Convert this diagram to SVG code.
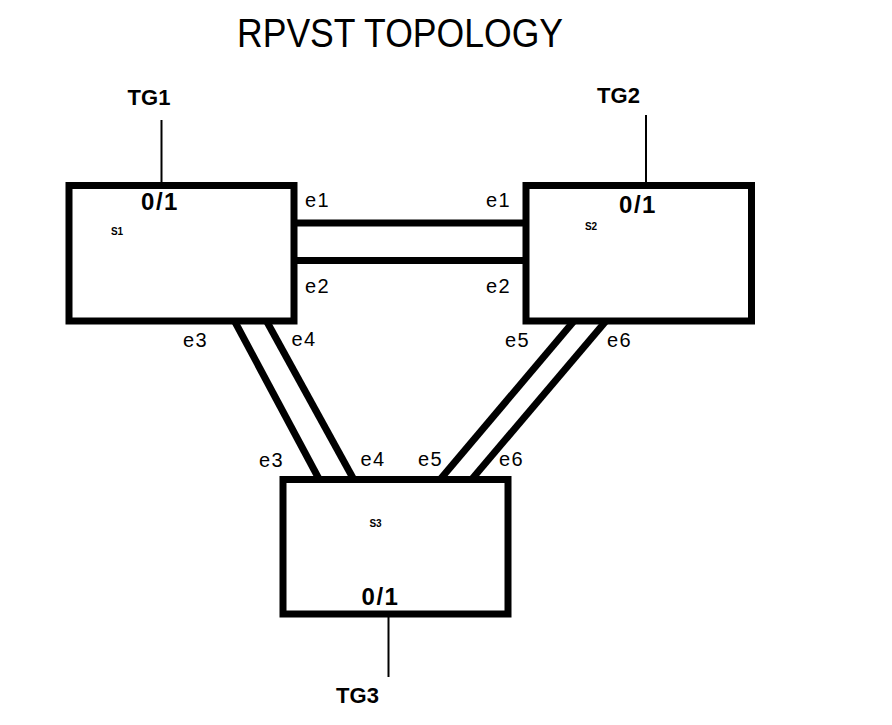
<svg xmlns="http://www.w3.org/2000/svg" width="892" height="725" viewBox="0 0 892 725">
<style>
.box{fill:#fff;stroke:#000;stroke-width:7}
.link{stroke:#000;stroke-width:7;fill:none}
.tg{stroke:#000;stroke-width:2}
.t{font-family:"Liberation Sans",Arial,sans-serif;fill:#000}
.port{font-size:20px;letter-spacing:1.5px}
.tgl{font-size:22px;font-weight:bold;text-anchor:middle}
.if{font-size:24px;font-weight:bold;text-anchor:middle;letter-spacing:1.5px}
.sw{font-size:10px;font-weight:bold;text-anchor:middle}
</style>
<rect width="892" height="725" fill="#fff"/>
<text class="t" x="400" y="47" font-size="41" text-anchor="middle" textLength="326" lengthAdjust="spacingAndGlyphs">RPVST TOPOLOGY</text>
<g id="connectors">
<line class="link" x1="294" y1="223" x2="526" y2="223"/>
<line class="link" x1="294" y1="260.5" x2="526" y2="260.5"/>
<line class="link" x1="234.5" y1="321" x2="319" y2="479"/>
<line class="link" x1="266.5" y1="321" x2="353.5" y2="479"/>
<line class="link" x1="574" y1="321" x2="440.5" y2="479"/>
<line class="link" x1="606" y1="321" x2="472" y2="479"/>
<line class="tg" x1="161.5" y1="120" x2="161.5" y2="183"/>
<line class="tg" x1="646" y1="115" x2="646" y2="183"/>
<line class="tg" x1="388.5" y1="617" x2="388.5" y2="677"/>
</g>
<g id="S1">
<rect class="box" x="69" y="185.5" width="225" height="135.5"/>
<text class="t if" x="160" y="210">0/1</text>
<text class="t sw" x="117" y="235">S1</text>
</g>
<g id="S2">
<rect class="box" x="526" y="185.5" width="225.5" height="135.5"/>
<text class="t if" x="638" y="213">0/1</text>
<text class="t sw" x="591" y="230">S2</text>
</g>
<g id="S3">
<rect class="box" x="283" y="479.5" width="225" height="134.5"/>
<text class="t if" x="380.5" y="605">0/1</text>
<text class="t sw" x="375.5" y="527">S3</text>
</g>
<g id="TG1"><text class="t tgl" x="149" y="105">TG1</text></g>
<g id="TG2"><text class="t tgl" x="618.5" y="103">TG2</text></g>
<g id="TG3"><text class="t tgl" x="357.5" y="703">TG3</text></g>
<g id="port-labels">
<text class="t port" x="305" y="207">e1</text>
<text class="t port" x="305" y="293">e2</text>
<text class="t port" x="486" y="207">e1</text>
<text class="t port" x="486" y="293">e2</text>
<text class="t port" x="183" y="346.5">e3</text>
<text class="t port" x="291.5" y="346">e4</text>
<text class="t port" x="505" y="347">e5</text>
<text class="t port" x="607" y="347">e6</text>
<text class="t port" x="259" y="466.5">e3</text>
<text class="t port" x="360.5" y="466">e4</text>
<text class="t port" x="418" y="466">e5</text>
<text class="t port" x="499" y="466">e6</text>
</g>
</svg>
